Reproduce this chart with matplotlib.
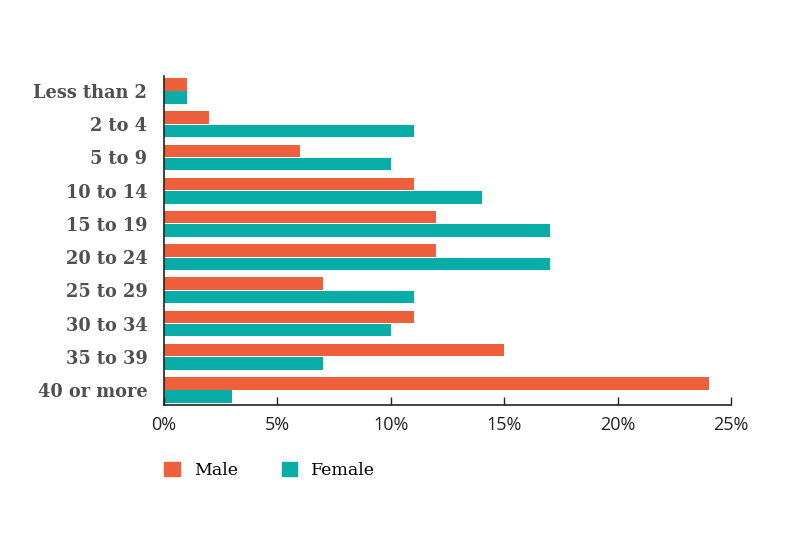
import matplotlib
matplotlib.use("Agg")
import matplotlib.pyplot as plt
import numpy as np
from matplotlib.patches import Patch

categories = ["Less than 2", "2 to 4", "5 to 9", "10 to 14", "15 to 19",
              "20 to 24", "25 to 29", "30 to 34", "35 to 39", "40 or more"]
male = [1, 2, 6, 11, 12, 12, 7, 11, 15, 24]
female = [1, 11, 10, 14, 17, 17, 11, 10, 7, 3]
xticks = [0, 5, 10, 15, 20, 25]
xticklabels = ["0%", "5%", "10%", "15%", "20%", "25%"]

orange = "#EE5F3B"
teal = "#08ADA8"
gray = "#505050"

fig = plt.figure(figsize=(8, 5.39), dpi=100)
ax = fig.add_axes([0.205, 0.2486, 0.709, 0.6104])

y = np.arange(len(categories))
h = 0.375
ax.barh(y - 0.2, male, height=h, color=orange)
ax.barh(y + 0.2, female, height=h, color=teal)

ax.set_ylim(9.45, -0.45)
ax.set_xlim(0, 25)
ax.set_yticks(y)
ax.set_yticklabels(categories, family="DejaVu Serif", fontweight="bold",
                   fontsize=12.8, color=gray)
ax.set_xticks(xticks)
ax.set_xticklabels(xticklabels, family="Open Sans", fontsize=13, color="#222222")
ax.tick_params(axis="y", length=0, pad=12)
ax.tick_params(axis="x", direction="in", length=6, width=1, color="#222222", pad=8)
for s in ["top", "right"]:
    ax.spines[s].set_visible(False)
for s in ["left", "bottom"]:
    ax.spines[s].set_color("#222222")
    ax.spines[s].set_linewidth(1.2)

handles = [Patch(color=orange, label="Male"), Patch(color=teal, label="Female")]
fig.legend(handles=handles, loc="center left", bbox_to_anchor=(0.186, 0.127),
           ncol=2, frameon=False, handlelength=0.88, handleheight=0.88,
           handletextpad=0.8, columnspacing=2.55,
           prop={"family": "DejaVu Serif", "size": 12.5})

fig.savefig("out.png", dpi=100)
